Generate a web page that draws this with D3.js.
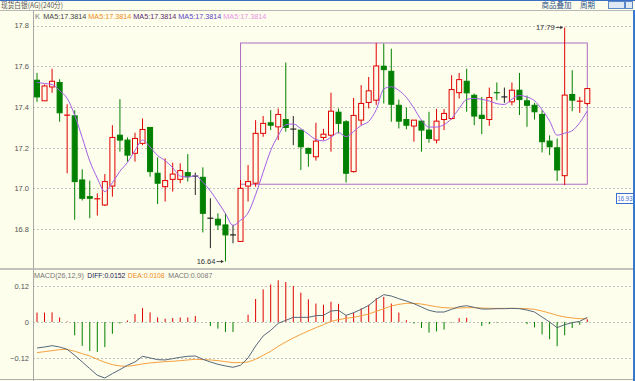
<!DOCTYPE html>
<html><head><meta charset="utf-8">
<script src="https://cdn.jsdelivr.net/npm/d3@7"></script>
<style>
html,body{margin:0;padding:0;background:#fefeec;}
svg{display:block;}
text{font-family:"Liberation Sans",Arial,sans-serif;}
</style></head>
<body>
<svg id="c" width="635" height="381"></svg>
<script>
// ---------- data ----------
const opens  = [17.531,17.430,17.498,17.520,17.357,17.356,17.041,16.959,16.946,16.918,17.011,17.261,17.237,17.172,17.221,17.299,17.074,17.008,17.044,17.044,17.077,17.060,17.054,16.853,16.848,16.820,16.771,16.739,17.011,17.025,17.270,17.322,17.302,17.338,17.291,17.286,17.196,17.155,17.250,17.261,17.374,17.327,17.082,17.335,17.422,17.433,17.600,17.575,17.408,17.338,17.306,17.330,17.286,17.237,17.338,17.343,17.470,17.526,17.457,17.359,17.338,17.471,17.449,17.425,17.482,17.430,17.408,17.363,17.232,17.199,17.062,17.461,17.426,17.417];
const highs  = [17.567,17.510,17.588,17.536,17.413,17.384,17.093,17.038,16.975,17.070,17.310,17.438,17.250,17.273,17.343,17.299,17.152,17.147,17.126,17.123,17.168,17.077,17.103,16.951,16.877,16.877,16.820,17.041,17.114,17.335,17.355,17.384,17.392,17.618,17.355,17.286,17.200,17.322,17.292,17.470,17.392,17.335,17.444,17.507,17.547,17.714,17.711,17.686,17.436,17.397,17.335,17.335,17.376,17.390,17.389,17.556,17.567,17.588,17.466,17.449,17.495,17.520,17.495,17.520,17.567,17.456,17.420,17.384,17.260,17.245,17.790,17.580,17.449,17.490];
const lows   = [17.425,17.430,17.469,17.327,17.074,16.845,16.940,16.853,16.866,16.913,16.959,17.180,17.131,17.131,17.212,17.057,16.923,16.935,16.984,17.025,17.033,16.967,16.783,16.706,16.796,16.640,16.730,16.739,16.935,17.008,17.253,17.286,17.237,17.278,17.212,17.090,17.106,17.136,17.237,17.180,17.270,17.028,17.077,17.310,17.392,17.410,17.417,17.327,17.294,17.290,17.229,17.180,17.224,17.221,17.286,17.338,17.441,17.376,17.310,17.266,17.307,17.433,17.420,17.408,17.360,17.302,17.338,17.176,17.163,17.036,17.016,17.379,17.371,17.408];
const closes = [17.449,17.503,17.526,17.371,17.362,17.033,16.951,16.951,16.951,17.033,17.250,17.237,17.163,17.245,17.289,17.082,17.025,17.038,17.070,17.087,17.057,17.060,16.877,16.853,16.820,16.771,16.771,17.000,17.033,17.270,17.319,17.310,17.363,17.299,17.291,17.204,17.172,17.232,17.266,17.379,17.319,17.074,17.358,17.417,17.479,17.601,17.583,17.413,17.330,17.310,17.335,17.286,17.245,17.330,17.368,17.485,17.534,17.469,17.355,17.343,17.446,17.469,17.449,17.482,17.436,17.408,17.376,17.229,17.204,17.090,17.458,17.433,17.430,17.490];
const ma5    = [17.520,17.515,17.510,17.480,17.442,17.359,17.249,17.134,17.050,16.984,17.027,17.084,17.127,17.186,17.237,17.203,17.161,17.136,17.101,17.060,17.055,17.062,17.030,16.987,16.933,16.876,16.818,16.843,16.879,16.969,17.079,17.186,17.259,17.312,17.316,17.293,17.266,17.240,17.233,17.251,17.274,17.254,17.279,17.309,17.329,17.386,17.488,17.499,17.481,17.447,17.394,17.335,17.301,17.301,17.313,17.343,17.392,17.437,17.442,17.437,17.429,17.416,17.412,17.438,17.456,17.449,17.430,17.386,17.331,17.261,17.271,17.283,17.323,17.380];
const diff   = [-0.0859,-0.0826,-0.0782,-0.0826,-0.0903,-0.1101,-0.1321,-0.1541,-0.1761,-0.1850,-0.1706,-0.1574,-0.1431,-0.1321,-0.1134,-0.1189,-0.1244,-0.1255,-0.1211,-0.1167,-0.1134,-0.1123,-0.1233,-0.1321,-0.1398,-0.1453,-0.1497,-0.1431,-0.1189,-0.0793,-0.0462,-0.0275,-0.0044,0.0055,0.0154,0.0154,0.0154,0.0209,0.0220,0.0363,0.0385,0.0220,0.0308,0.0418,0.0550,0.0749,0.0903,0.0859,0.0771,0.0694,0.0606,0.0495,0.0385,0.0330,0.0330,0.0418,0.0506,0.0539,0.0484,0.0429,0.0429,0.0440,0.0440,0.0451,0.0440,0.0396,0.0330,0.0165,0.0000,-0.0187,-0.0088,-0.0022,0.0022,0.0152];
const dea    = [-0.1013,-0.0980,-0.0947,-0.0914,-0.0903,-0.0969,-0.1046,-0.1123,-0.1233,-0.1332,-0.1409,-0.1453,-0.1464,-0.1431,-0.1387,-0.1354,-0.1332,-0.1310,-0.1299,-0.1277,-0.1255,-0.1233,-0.1244,-0.1255,-0.1277,-0.1310,-0.1343,-0.1343,-0.1321,-0.1233,-0.1101,-0.0969,-0.0804,-0.0661,-0.0528,-0.0407,-0.0297,-0.0187,-0.0088,0.0022,0.0077,0.0121,0.0154,0.0209,0.0264,0.0352,0.0440,0.0528,0.0583,0.0617,0.0617,0.0594,0.0550,0.0506,0.0473,0.0462,0.0462,0.0473,0.0473,0.0462,0.0451,0.0451,0.0451,0.0451,0.0451,0.0440,0.0418,0.0363,0.0297,0.0220,0.0165,0.0132,0.0110,0.0108];
const macd   = [0.031,0.031,0.032,0.015,0.002,-0.044,-0.079,-0.096,-0.099,-0.083,-0.039,-0.005,0.005,0.026,0.046,0.032,0.015,0.011,0.013,0.015,0.015,0.020,0.000,-0.013,-0.022,-0.033,-0.033,0.000,0.024,0.076,0.108,0.124,0.138,0.132,0.119,0.097,0.075,0.061,0.057,0.067,0.060,0.022,0.031,0.045,0.057,0.079,0.083,0.061,0.031,0.006,-0.005,-0.020,-0.035,-0.031,-0.025,-0.002,0.013,0.014,0.001,-0.013,-0.007,-0.002,-0.001,0.001,0.000,-0.007,-0.018,-0.041,-0.057,-0.080,-0.044,-0.020,-0.009,0.0087];
const priceTicks = [17.8,17.6,17.4,17.2,17.0,16.8];
const macdTicks  = [0.12,0,-0.12];
const boxRange   = {start:27, end:73, top:17.714, bottom:17.02};
const titleText  = "现货白银(AG)(240分)";
const maLegend   = ["MA5:17.3814","MA5:17.3814","MA5:17.3814","MA5:17.3814","MA5:17.3814"];
const macdLegend = ["MACD(26,12,9)","DIFF:0.0152","DEA:0.0108","MACD:0.0087"];
const hiMark = {i:70, label:"17.79"};
const loMark = {i:25, label:"16.64"};
const cursorLabel = "16.93";

// ---------- layout ----------
const svg = d3.select("#c");
const BG = "#fefeec";
const RED = "#e00000", GREEN = "#008000";
const L = 33, R = 633;
const x = d3.scaleLinear().domain([0, closes.length-1]).range([37, 587.3]);
const y = d3.scaleLinear().domain([16.8, 17.8]).range([229.0, 25.5]);
const ym = d3.scaleLinear().domain([-0.12, 0.12]).range([358.3, 285.7]);

svg.append("rect").attr("width",635).attr("height",381).attr("fill",BG);

// grid
const grid = svg.append("g");
priceTicks.forEach(t => grid.append("line").attr("x1",L).attr("x2",R).attr("y1",Math.round(y(t))+0.5).attr("y2",Math.round(y(t))+0.5)
  .attr("stroke","#c4c4c4").attr("stroke-dasharray","2,2"));
macdTicks.forEach(t => grid.append("line").attr("x1",L).attr("x2",R).attr("y1",Math.round(ym(t))+0.5).attr("y2",Math.round(ym(t))+0.5)
  .attr("stroke","#c4c4c4").attr("stroke-dasharray","2,2"));

// axes labels
const ax1 = svg.append("g").attr("transform",`translate(${L},0)`)
  .call(d3.axisLeft(y).tickValues(priceTicks).tickSize(0).tickPadding(4).tickFormat(d3.format(".1f")));
const ax2 = svg.append("g").attr("transform",`translate(${L},0)`)
  .call(d3.axisLeft(ym).tickValues(macdTicks).tickSize(0).tickPadding(4).tickFormat(d => d===0?"0":d3.format(".2f")(d)));
[ax1,ax2].forEach(a => { a.select(".domain").remove(); a.selectAll("text").attr("fill","#555").style("font-size","7.5px").style("font-family","Liberation Sans"); });

// frame
svg.append("line").attr("x1",0).attr("x2",635).attr("y1",0.5).attr("y2",0.5).attr("stroke","#3a6fc4");
svg.append("line").attr("x1",0).attr("x2",635).attr("y1",10.5).attr("y2",10.5).attr("stroke","#b8b8b8");
svg.append("line").attr("x1",L+0.5).attr("x2",L+0.5).attr("y1",11).attr("y2",381).attr("stroke","#a8a8a8");
svg.append("line").attr("x1",0).attr("x2",635).attr("y1",269).attr("y2",269).attr("stroke","#b0b0b0").attr("stroke-width",1.5);
svg.append("line").attr("x1",0).attr("x2",635).attr("y1",379.5).attr("y2",379.5).attr("stroke","#b0b0b0");

// box annotation
svg.append("rect")
  .attr("x",x(boxRange.start)).attr("y",y(boxRange.top))
  .attr("width",x(boxRange.end)-x(boxRange.start)).attr("height",y(boxRange.bottom)-y(boxRange.top))
  .attr("fill","none").attr("stroke","#b06cc0").attr("stroke-width",1);

// candles
const cg = svg.append("g");
const bw = 5;
closes.forEach((c,i) => {
  const o = opens[i];
  const col = c > o ? RED : (c < o ? GREEN : "#222");
  const cx = x(i);
  cg.append("line").attr("x1",cx).attr("x2",cx).attr("y1",y(highs[i])).attr("y2",y(lows[i])).attr("stroke",col).attr("stroke-width",1);
  const top = y(Math.max(o,c)), bot = y(Math.min(o,c));
  if (Math.abs(bot-top) < 1.2) {
    cg.append("line").attr("x1",cx-3).attr("x2",cx+3).attr("y1",(top+bot)/2).attr("y2",(top+bot)/2).attr("stroke",col).attr("stroke-width",1.2);
  } else if (c > o) {
    cg.append("rect").attr("x",cx-bw/2).attr("y",top).attr("width",bw).attr("height",bot-top)
      .attr("fill",BG).attr("stroke",RED).attr("stroke-width",1);
  } else {
    cg.append("rect").attr("x",cx-bw/2).attr("y",top).attr("width",bw).attr("height",bot-top)
      .attr("fill",GREEN).attr("stroke",GREEN).attr("stroke-width",1);
  }
});

// MA5
svg.append("path").datum(ma5)
  .attr("d", d3.line().x((d,i)=>x(i)).y(d=>y(d)).curve(d3.curveMonotoneX))
  .attr("fill","none").attr("stroke","#a35ee6").attr("stroke-width",1);

// hi / lo marks
function mark(m, val) {
  const cx = x(m.i), cy = y(val);
  svg.append("line").attr("x1",cx-9).attr("x2",cx-2).attr("y1",cy).attr("y2",cy).attr("stroke","#333").attr("stroke-width",0.8);
  svg.append("path").attr("d",`M${cx-2},${cy} l-2.5,-1.8 l0,3.6 z`).attr("fill","#333");
  svg.append("text").attr("x",cx-10).attr("y",cy+2.6).attr("text-anchor","end").attr("fill","#333")
    .style("font-size","7.5px").text(m.label);
}
mark(hiMark, highs[hiMark.i]);
mark(loMark, lows[loMark.i]);

// MACD histogram
const mg = svg.append("g");
macd.forEach((v,i) => {
  if (Math.abs(v) < 0.0015) return;
  mg.append("line").attr("x1",x(i)).attr("x2",x(i)).attr("y1",ym(0)).attr("y2",ym(v))
    .attr("stroke", v>0?RED:GREEN).attr("stroke-width",1);
});
svg.append("path").datum(dea).attr("d", d3.line().x((d,i)=>x(i)).y(d=>ym(d)))
  .attr("fill","none").attr("stroke","#f5a040").attr("stroke-width",1);
svg.append("path").datum(diff).attr("d", d3.line().x((d,i)=>x(i)).y(d=>ym(d)))
  .attr("fill","none").attr("stroke","#56687a").attr("stroke-width",1);

// title & legends
svg.append("text").attr("x",1).attr("y",8).attr("fill","#555")
  .attr("textLength",62).attr("lengthAdjust","spacingAndGlyphs")
  .style("font-family","Noto Sans CJK SC").style("font-size","7.5px").text(titleText);
svg.append("text").attr("x",35).attr("y",19).attr("fill","#777").style("font-size","7.5px").text("K");
const maCols = ["#444444","#f08a24","#5a2a6e","#5a46c6","#e890e8"];
maLegend.forEach((t,k) => svg.append("text").attr("x",43.3+k*45).attr("y",19).attr("fill",maCols[k])
  .attr("textLength",43).attr("lengthAdjust","spacingAndGlyphs").style("font-size","8px").text(t));
const mlX = [34, 87.3, 127.7, 168.3], mlW = [50, 38, 37, 44];
const mlC = ["#777","#202050","#f08a24","#777"];
macdLegend.forEach((t,k) => svg.append("text").attr("x",mlX[k]).attr("y",278).attr("fill",mlC[k])
  .attr("textLength",mlW[k]).attr("lengthAdjust","spacingAndGlyphs").style("font-size","8px").text(t));

// top-right controls
svg.append("text").attr("x",541.5).attr("y",8).attr("fill","#2a4f8a").style("font-family","Noto Sans CJK SC").style("font-size","7.5px").text("商品叠加");
svg.append("text").attr("x",580).attr("y",8).attr("fill","#2a4f8a").style("font-family","Noto Sans CJK SC").style("font-size","7.5px").text("周期");
svg.append("rect").attr("x",608.5).attr("y",1.5).attr("width",16).attr("height",7).attr("fill","#dfe9f5").attr("stroke","#5a88c8");
svg.append("rect").attr("x",625.5).attr("y",1.5).attr("width",7).attr("height",7).attr("fill","#dfe9f5").attr("stroke","#5a88c8");

// cursor price label
svg.append("rect").attr("x",616.5).attr("y",193.5).attr("width",17).attr("height",10).attr("fill","#fff").attr("stroke","#3a6fd0");
svg.append("text").attr("x",617.5).attr("y",201.3).attr("fill","#3a6fd0")
  .attr("textLength",15).attr("lengthAdjust","spacingAndGlyphs").style("font-size","7.5px").text(cursorLabel);

// right border
svg.append("line").attr("x1",634).attr("x2",634).attr("y1",10).attr("y2",381).attr("stroke","#3a78d0").attr("stroke-width",2);
</script>
</body></html>
